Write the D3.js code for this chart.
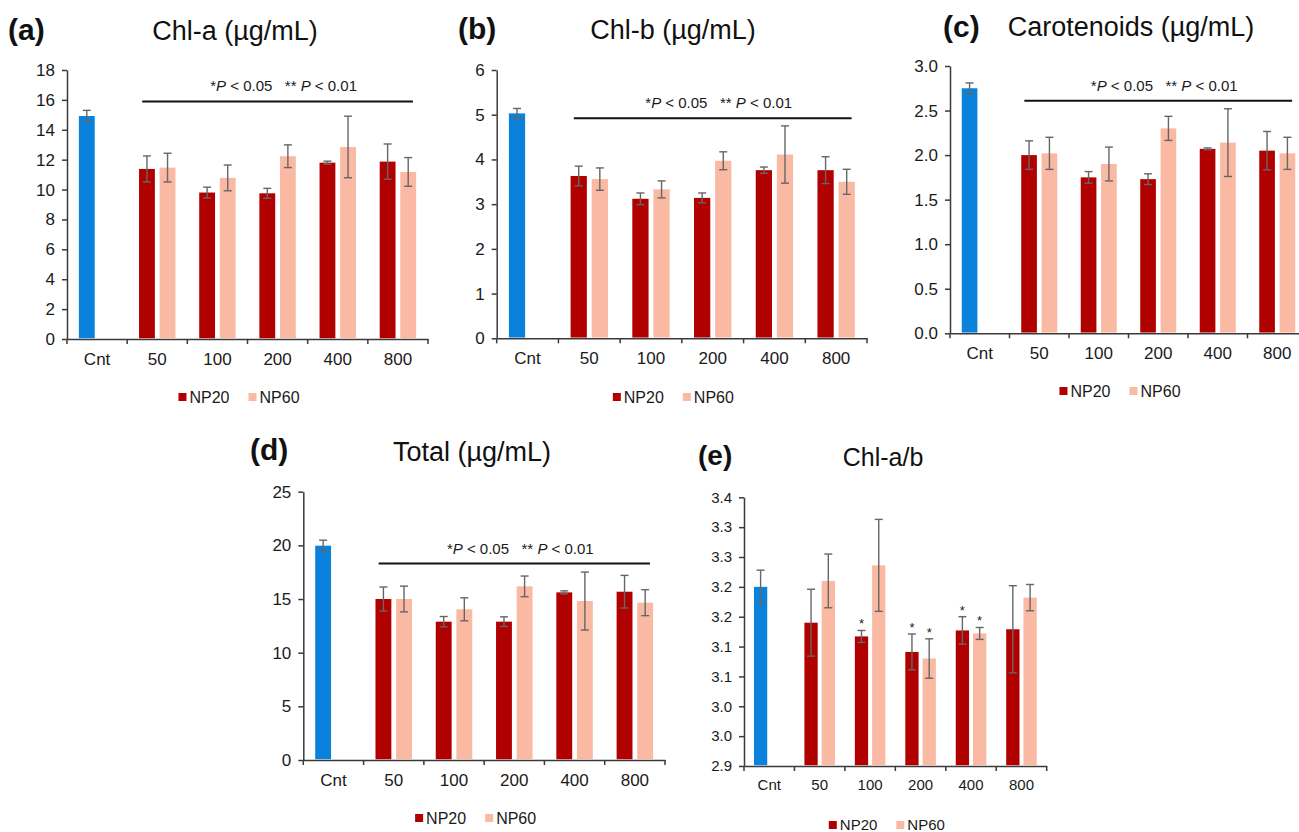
<!DOCTYPE html>
<html>
<head>
<meta charset="utf-8">
<script src="https://cdn.jsdelivr.net/npm/d3@7"></script>
<style>
  html, body { margin: 0; padding: 0; background: #fff; }
  svg { display: block; }
  text { font-family: Arial, "Liberation Sans", sans-serif; }
</style>
</head>
<body>
<svg id="chart" width="1299" height="832"></svg>
<script>
// ---------------- DATA ----------------
const categories = ["Cnt", "50", "100", "200", "400", "800"];
const seriesNames = ["NP20", "NP60"];
const sigText = ["*", "P", " < 0.05   ** ", "P", " < 0.01"];

// (a) Chl-a (index 0 = control, drawn in blue)
const chlaNP20    = [14.92, 11.38, 9.80, 9.75, 11.80, 11.87];
const chlaNP20Err = [0.38, 0.87, 0.36, 0.33, 0.10, 1.18];
const chlaNP60    = [null, 11.47, 10.78, 12.23, 12.85, 11.18];
const chlaNP60Err = [null, 0.96, 0.86, 0.76, 2.06, 0.96];
const chlaTicks   = [0, 2, 4, 6, 8, 10, 12, 14, 16, 18];
const chlaSigLevel = 15.9;

// (b) Chl-b
const chlbNP20    = [5.03, 3.63, 3.12, 3.14, 3.76, 3.76];
const chlbNP20Err = [0.11, 0.22, 0.13, 0.11, 0.07, 0.30];
const chlbNP60    = [null, 3.56, 3.33, 3.97, 4.11, 3.50];
const chlbNP60Err = [null, 0.25, 0.19, 0.20, 0.64, 0.28];
const chlbTicks   = [0, 1, 2, 3, 4, 5, 6];
const chlbSigLevel = 4.92;

// (c) Carotenoids
const carNP20    = [2.75, 2.00, 1.75, 1.73, 2.07, 2.05];
const carNP20Err = [0.06, 0.16, 0.065, 0.06, 0.01, 0.215];
const carNP60    = [null, 2.02, 1.90, 2.30, 2.14, 2.02];
const carNP60Err = [null, 0.18, 0.19, 0.135, 0.38, 0.18];
const carTicks   = [0, 0.5, 1.0, 1.5, 2.0, 2.5, 3.0];
const carTickLabels = ["0.0", "0.5", "1.0", "1.5", "2.0", "2.5", "3.0"];
const carSigLevel = 2.61;

// (d) Total
const totNP20    = [19.97, 15.00, 12.89, 12.89, 15.62, 15.68];
const totNP20Err = [0.51, 1.12, 0.48, 0.45, 0.14, 1.52];
const totNP60    = [null, 15.00, 14.04, 16.18, 14.81, 14.66];
const totNP60Err = [null, 1.20, 1.07, 0.96, 2.70, 1.21];
const totTicks   = [0, 5, 10, 15, 20, 25];
const totSigLevel = 18.3;

// (e) Chl-a/b
const ratioNP20    = [3.200, 3.140, 3.117, 3.091, 3.127, 3.129];
const ratioNP20Err = [0.028, 0.056, 0.010, 0.030, 0.023, 0.073];
const ratioNP60    = [null, 3.210, 3.236, 3.080, 3.122, 3.182];
const ratioNP60Err = [null, 0.045, 0.077, 0.033, 0.010, 0.022];
const ratioNP20Star = [false, false, true, true, true, false];
const ratioNP60Star = [false, false, false, true, true, false];
const ratioTicks = [2.9, 2.95, 3.0, 3.05, 3.1, 3.15, 3.2, 3.25, 3.3, 3.35];
const ratioTickLabels = ["2.9", "3.0", "3.0", "3.1", "3.1", "3.2", "3.2", "3.3", "3.3", "3.4"];

// ---------------- STYLE / LAYOUT ----------------
const COL_CNT = "#0a82dc";
const COL_NP20 = "#b00000";
const COL_NP60 = "#f9b9a2";
const AXIS_COL = "#3a3a3a";
const ERR_COL = "#666666";

const panels = [
  { label: "(a)", title: "Chl-a (µg/mL)", np20: chlaNP20, np20e: chlaNP20Err, np60: chlaNP60, np60e: chlaNP60Err,
    ticks: chlaTicks, tickLabels: null, domain: [0, 18], sig: chlaSigLevel,
    x0: 67, x1: 428, y0: 339, y1: 70, font: 17, legendY: 397,
    labelX: 8, labelY: 40, titleX: 235, titleY: 40, titleSize: 27 },
  { label: "(b)", title: "Chl-b (µg/mL)", np20: chlbNP20, np20e: chlbNP20Err, np60: chlbNP60, np60e: chlbNP60Err,
    ticks: chlbTicks, tickLabels: null, domain: [0, 6], sig: chlbSigLevel,
    x0: 496.7, x1: 867, y0: 338.3, y1: 70, font: 17, legendY: 397,
    labelX: 458, labelY: 39, titleX: 673, titleY: 39, titleSize: 27 },
  { label: "(c)", title: "Carotenoids (µg/mL)", np20: carNP20, np20e: carNP20Err, np60: carNP60, np60e: carNP60Err,
    ticks: carTicks, tickLabels: carTickLabels, domain: [0, 3], sig: carSigLevel,
    x0: 950, x1: 1307, y0: 333.3, y1: 66, font: 17, legendY: 391,
    labelX: 943, labelY: 37, titleX: 1131, titleY: 36, titleSize: 27 },
  { label: "(d)", title: "Total (µg/mL)", np20: totNP20, np20e: totNP20Err, np60: totNP60, np60e: totNP60Err,
    ticks: totTicks, tickLabels: null, domain: [0, 25], sig: totSigLevel,
    x0: 303.3, x1: 665, y0: 760, y1: 491.7, font: 17, legendY: 818,
    labelX: 250, labelY: 460, titleX: 472, titleY: 461, titleSize: 27 },
  { label: "(e)", title: "Chl-a/b", np20: ratioNP20, np20e: ratioNP20Err, np60: ratioNP60, np60e: ratioNP60Err,
    stars20: ratioNP20Star, stars60: ratioNP60Star,
    ticks: ratioTicks, tickLabels: ratioTickLabels, domain: [2.9, 3.35], sig: null,
    x0: 744, x1: 1046.7, y0: 766, y1: 497.3, font: 15, legendY: 825,
    labelX: 698, labelY: 465, titleX: 883, titleY: 466, titleSize: 25 }
];

const svg = d3.select("#chart");

panels.forEach(p => {
  const g = svg.append("g");
  const x = d3.scaleBand().domain(categories).range([p.x0, p.x1]).padding(0);
  const y = d3.scaleLinear().domain(p.domain).range([p.y0, p.y1]);
  const bw = x.bandwidth();
  const w = bw / 3.8;
  const off20 = 0.75 * w;
  const off60 = 0.75 * w + 1.3 * w;

  // Y axis
  const yAxis = d3.axisLeft(y).tickValues(p.ticks).tickSize(5).tickPadding(7).tickSizeOuter(0)
    .tickFormat((d, i) => p.tickLabels ? p.tickLabels[i] : d3.format("d")(d));
  const ya = g.append("g").attr("transform", `translate(${p.x0},0)`).call(yAxis);
  ya.select(".domain").attr("stroke", AXIS_COL).attr("stroke-width", 1.5);
  ya.selectAll(".tick line").attr("stroke", AXIS_COL).attr("stroke-width", 1.5);
  ya.selectAll(".tick text").attr("fill", "#1a1a1a").style("font-size", p.font + "px")
    .style("font-family", "Arial, 'Liberation Sans', sans-serif");

  // X axis (labels at band centres)
  const xAxis = d3.axisBottom(x).tickSize(0).tickPadding(p.font === 15 ? 13 : 14).tickSizeOuter(0);
  const xa = g.append("g").attr("transform", `translate(0,${p.y0})`).call(xAxis);
  xa.select(".domain").attr("stroke", AXIS_COL).attr("stroke-width", 1.5);
  xa.selectAll(".tick text").attr("fill", "#1a1a1a").style("font-size", p.font + "px")
    .style("font-family", "Arial, 'Liberation Sans', sans-serif");
  // boundary ticks
  const bounds = categories.map(c => x(c)).concat([x(categories[categories.length - 1]) + bw]);
  g.append("g").selectAll("line").data(bounds).join("line")
    .attr("x1", d => d).attr("x2", d => d)
    .attr("y1", p.y0).attr("y2", p.y0 + 5)
    .attr("stroke", AXIS_COL).attr("stroke-width", 1.5);

  // bars
  const bars = [];
  categories.forEach((c, i) => {
    if (p.np20[i] != null) bars.push({ x: x(c) + off20, v: p.np20[i], e: p.np20e[i], col: i === 0 ? COL_CNT : COL_NP20, star: p.stars20 ? p.stars20[i] : false });
    if (p.np60[i] != null) bars.push({ x: x(c) + off60, v: p.np60[i], e: p.np60e[i], col: COL_NP60, star: p.stars60 ? p.stars60[i] : false });
  });
  g.append("g").selectAll("rect").data(bars).join("rect")
    .attr("x", d => d.x).attr("width", w)
    .attr("y", d => y(d.v)).attr("height", d => y(p.domain[0]) - y(d.v) - 0.75)
    .attr("fill", d => d.col);

  // error bars
  const eg = g.append("g").attr("stroke", ERR_COL).attr("stroke-width", 1.4);
  eg.selectAll("line.v").data(bars).join("line").attr("class", "v")
    .attr("x1", d => d.x + w / 2).attr("x2", d => d.x + w / 2)
    .attr("y1", d => y(d.v + d.e)).attr("y2", d => y(d.v - d.e));
  eg.selectAll("line.t").data(bars).join("line").attr("class", "t")
    .attr("x1", d => d.x + w / 2 - 4).attr("x2", d => d.x + w / 2 + 4)
    .attr("y1", d => y(d.v + d.e)).attr("y2", d => y(d.v + d.e));
  eg.selectAll("line.b").data(bars).join("line").attr("class", "b")
    .attr("x1", d => d.x + w / 2 - 4).attr("x2", d => d.x + w / 2 + 4)
    .attr("y1", d => y(d.v - d.e)).attr("y2", d => y(d.v - d.e));

  // stars
  g.append("g").selectAll("text").data(bars.filter(d => d.star)).join("text")
    .attr("x", d => d.x + w / 2).attr("y", d => y(d.v + d.e) - 2)
    .attr("text-anchor", "middle").style("font-size", "13px").attr("fill", "#222")
    .text("*");

  // significance line + text
  if (p.sig != null) {
    const lx1 = x(categories[1]) + bw * 0.25;
    const lx2 = x(categories[categories.length - 1]) + bw * 0.75;
    g.append("line").attr("x1", lx1).attr("x2", lx2)
      .attr("y1", y(p.sig)).attr("y2", y(p.sig))
      .attr("stroke", "#111").attr("stroke-width", 2);
    const t = g.append("text").attr("x", (lx1 + lx2) / 2 + 6).attr("y", y(p.sig) - 10)
      .attr("text-anchor", "middle").style("font-size", "15px").attr("fill", "#1a1a1a")
      .attr("xml:space", "preserve").style("white-space", "pre");
    sigText.forEach((s, i) => {
      t.append("tspan").style("font-style", s === "P" ? "italic" : "normal").text(s);
    });
  }

  // panel label + title
  g.append("text").attr("x", p.labelX).attr("y", p.labelY)
    .style("font-size", (p.titleSize + 3) + "px").style("font-weight", "bold").attr("fill", "#111")
    .text(p.label);
  g.append("text").attr("x", p.titleX).attr("y", p.titleY).attr("text-anchor", "middle")
    .style("font-size", p.titleSize + "px").attr("fill", "#111")
    .text(p.title);

  // legend
  const lf = p.font === 15 ? 15 : 16;
  const lg = g.append("g");
  const items = seriesNames.map((s, i) => ({ name: s, col: i === 0 ? COL_NP20 : COL_NP60 }));
  // measure
  const tmp = lg.append("text").style("font-size", lf + "px").text("NP20");
  const tw = tmp.node().getComputedTextLength();
  tmp.remove();
  const itemW = 8 + 4 + tw;
  const gap = 18;
  const total = itemW * 2 + gap;
  const cx = (p.x0 + Math.min(p.x1, 1299 + 8)) / 2 - 8;
  const start = cx - total / 2;
  items.forEach((it, i) => {
    const ix = start + i * (itemW + gap);
    lg.append("rect").attr("x", ix).attr("y", p.legendY - 4).attr("width", 8).attr("height", 8).attr("fill", it.col);
    lg.append("text").attr("x", ix + 11).attr("y", p.legendY).attr("dy", "0.36em")
      .style("font-size", lf + "px").attr("fill", "#1a1a1a").text(it.name);
  });
});
</script>
</body>
</html>
